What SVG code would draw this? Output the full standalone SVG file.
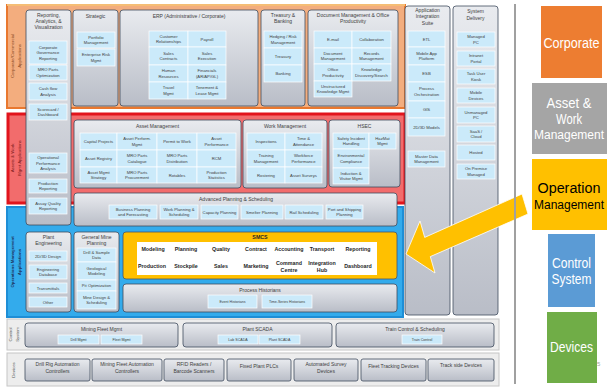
<svg xmlns="http://www.w3.org/2000/svg" width="607" height="387" viewBox="0 0 607 387">
<defs>
<linearGradient id="g" x1="0" y1="0" x2="0" y2="1">
<stop offset="0" stop-color="#E9EBEF"/>
<stop offset="1" stop-color="#B9BDC7"/>
</linearGradient>
<style>
text{font-family:"Liberation Sans",Arial,sans-serif}
.col{fill:url(#g);stroke:#3F4B5E;stroke-width:0.8}
.it{fill:#CBEAFA;stroke:#fff;stroke-width:0.7}
.s{font-size:4.2px;fill:#404040;text-anchor:middle}
.h{font-size:5px;fill:#404040;text-anchor:middle}
.m{font-size:3.6px;fill:#404040;text-anchor:middle}
.b{font-size:5.3px;font-weight:bold;fill:#262626;text-anchor:middle}
.lg{font-size:14px;fill:#fff;text-anchor:middle}
.side{font-size:4.4px;text-anchor:middle}
</style>
</defs>
<rect width="607" height="387" fill="#fff"/>

<!-- bands -->
<g id="bands">
<rect x="7" y="5" width="398" height="103" fill="#F3AD7E" stroke="#E9782F" stroke-width="2"/>
<line x1="7" y1="5" x2="405" y2="5" stroke="#F9D58E" stroke-width="1.5"/>
<rect x="8" y="114" width="397" height="89" fill="#F26C6C" stroke="#E2141C" stroke-width="3"/>
<rect x="7" y="207" width="396" height="110" fill="#33ABEC" stroke="#1E8ED6" stroke-width="2"/>
<rect x="7" y="319" width="492" height="31" fill="#EDEDED" stroke="#C6C6C6" stroke-width="1"/>
<rect x="7" y="353" width="492" height="33" fill="#EDEDED" stroke="#C6C6C6" stroke-width="1"/>
<text class="side" fill="#8A4A1E" transform="rotate(-90 13.5 56)" x="13.5" y="56">Corporate/Commercial</text>
<text class="side" fill="#8A4A1E" transform="rotate(-90 20.5 56)" x="20.5" y="56">Applications</text>
<text class="side" fill="#7A1A1A" transform="rotate(-90 13.5 158)" x="13.5" y="158">Assets &amp; Work</text>
<text class="side" fill="#7A1A1A" transform="rotate(-90 20.5 158)" x="20.5" y="158">Mgmt Applications</text>
<text class="side" fill="#1F3864" font-weight="bold" transform="rotate(-90 13.5 262)" x="13.5" y="262">Operations Management</text>
<text class="side" fill="#1F3864" font-weight="bold" transform="rotate(-90 20.5 262)" x="20.5" y="262">Applications</text>
<text class="side" fill="#595959" font-size="4px" transform="rotate(-90 12 334.5)" x="12" y="334.5">Control</text>
<text class="side" fill="#595959" font-size="4px" transform="rotate(-90 18.5 334.5)" x="18.5" y="334.5">System</text>
<text class="side" fill="#595959" font-size="4px" transform="rotate(-90 14.5 370)" x="14.5" y="370">Devices</text>
</g>

<g id="reporting">
<rect class="col" x="26" y="10" width="45" height="215" rx="3"/>
<text class="h" x="48.5" y="17">Reporting,</text>
<text class="h" x="48.5" y="23">Analytics, &amp;</text>
<text class="h" x="48.5" y="29">Visualization</text>
<rect class="it" x="29" y="41" width="38" height="23"/>
<text class="s" x="48" y="48.5">Corporate</text><text class="s" x="48" y="54">Governance</text><text class="s" x="48" y="59.5">Reporting</text>
<rect class="it" x="29" y="65" width="38" height="15"/>
<text class="s" x="48" y="71.2">MRO Parts</text><text class="s" x="48" y="76.7">Optimization</text>
<rect class="it" x="29" y="83" width="38" height="17"/>
<text class="s" x="48" y="90.2">Cash flow</text><text class="s" x="48" y="95.7">Analysis</text>
<rect class="it" x="29" y="104" width="38" height="16"/>
<text class="s" x="48" y="110.7">Scorecard /</text><text class="s" x="48" y="116.2">Dashboard</text>
<rect class="it" x="29" y="153" width="38" height="20"/>
<text class="s" x="48" y="159">Operational</text><text class="s" x="48" y="164.5">Performance</text><text class="s" x="48" y="170">Analysis</text>
<rect class="it" x="29" y="179" width="38" height="14"/>
<text class="s" x="48" y="184.7">Production</text><text class="s" x="48" y="190.2">Reporting</text>
<rect class="it" x="29" y="198" width="38" height="16"/>
<text class="s" x="48" y="204.7">Assay Quality</text><text class="s" x="48" y="210.2">Reporting</text>
</g>

<g id="strategic">
<rect class="col" x="73" y="10" width="45" height="96" rx="3"/>
<text class="h" x="95.5" y="17.5">Strategic</text>
<rect class="it" x="77" y="32" width="38" height="16"/>
<text class="s" x="96" y="38.7">Portfolio</text><text class="s" x="96" y="44.2">Management</text>
<rect class="it" x="77" y="49" width="38" height="17"/>
<text class="s" x="96" y="56.2">Enterprise Risk</text><text class="s" x="96" y="61.7">Mgmt</text>
</g>

<g id="erp">
<rect class="col" x="120" y="10" width="138" height="96" rx="3"/>
<text class="h" x="189" y="17.5">ERP (Administrative / Corporate)</text>
<rect class="it" x="149" y="31" width="39" height="16"/><rect class="it" x="188" y="31" width="38" height="16"/>
<rect class="it" x="149" y="47" width="39" height="18"/><rect class="it" x="188" y="47" width="38" height="18"/>
<rect class="it" x="149" y="65" width="39" height="17"/><rect class="it" x="188" y="65" width="38" height="17"/>
<rect class="it" x="149" y="82" width="39" height="17"/><rect class="it" x="188" y="82" width="38" height="17"/>
<text class="s" x="168.5" y="37.7">Customer</text><text class="s" x="168.5" y="43.2">Relationships</text>
<text class="s" x="207" y="40.5">Payroll</text>
<text class="s" x="168.5" y="54.7">Sales</text><text class="s" x="168.5" y="60.2">Contracts</text>
<text class="s" x="207" y="54.7">Sales</text><text class="s" x="207" y="60.2">Execution</text>
<text class="s" x="168.5" y="72.2">Human</text><text class="s" x="168.5" y="77.7">Resources</text>
<text class="s" x="207" y="72.2">Financials</text><text class="s" x="207" y="77.7">(AR/AP/GL)</text>
<text class="s" x="168.5" y="89.2">Travel</text><text class="s" x="168.5" y="94.7">Mgmt</text>
<text class="s" x="207" y="89.2">Tenement &amp;</text><text class="s" x="207" y="94.7">Lease Mgmt</text>
</g>

<g id="treasury">
<rect class="col" x="261" y="10" width="44" height="96" rx="3"/>
<text class="h" x="283" y="16.5">Treasury &amp;</text>
<text class="h" x="283" y="23">Banking</text>
<rect class="it" x="264" y="31" width="38" height="17"/>
<rect class="it" x="264" y="48" width="38" height="17"/>
<rect class="it" x="264" y="65" width="38" height="17"/>
<text class="s" x="283" y="38.2">Hedging / Risk</text><text class="s" x="283" y="43.7">Management</text>
<text class="s" x="283" y="58">Treasury</text>
<text class="s" x="283" y="75">Banking</text>
</g>

<g id="docmgmt">
<rect class="col" x="308" y="10" width="90" height="96" rx="3"/>
<text class="h" x="353" y="16.5">Document Management &amp; Office</text>
<text class="h" x="353" y="23">Productivity</text>
<rect class="it" x="314" y="31" width="38" height="17"/><rect class="it" x="352" y="31" width="39" height="17"/>
<rect class="it" x="314" y="48" width="38" height="16"/><rect class="it" x="352" y="48" width="39" height="16"/>
<rect class="it" x="314" y="64" width="38" height="17"/><rect class="it" x="352" y="64" width="39" height="17"/>
<rect class="it" x="314" y="81" width="38" height="16"/>
<text class="s" x="333" y="41">E-mail</text>
<text class="s" x="371.5" y="41">Collaboration</text>
<text class="s" x="333" y="54.7">Document</text><text class="s" x="333" y="60.2">Management</text>
<text class="s" x="371.5" y="54.7">Records</text><text class="s" x="371.5" y="60.2">Management</text>
<text class="s" x="333" y="71.2">Office</text><text class="s" x="333" y="76.7">Productivity</text>
<text class="s" x="371.5" y="71.2">Knowledge</text><text class="s" x="371.5" y="76.7">Discovery/Search</text>
<text class="s" x="333" y="87.7">Unstructured</text><text class="s" x="333" y="93.2">Knowledge Mgmt</text>
</g>

<g id="appint">
<rect class="col" x="405" y="6" width="45" height="309" rx="3"/>
<text class="h" x="427.5" y="11.5">Application</text>
<text class="h" x="427.5" y="18">Integration</text>
<text class="h" x="427.5" y="24.5">Suite</text>
<rect class="it" x="408" y="31" width="37" height="16"/>
<rect class="it" x="408" y="47" width="37" height="18"/>
<rect class="it" x="408" y="65" width="37" height="17"/>
<rect class="it" x="408" y="82" width="37" height="19"/>
<rect class="it" x="408" y="101" width="37" height="17"/>
<rect class="it" x="408" y="118" width="37" height="18"/>
<rect class="it" x="408" y="151" width="37" height="16"/>
<text class="s" x="426.5" y="40.5">ETL</text>
<text class="s" x="426.5" y="54.7">Mobile App</text><text class="s" x="426.5" y="60.2">Platform</text>
<text class="s" x="426.5" y="75">ESB</text>
<text class="s" x="426.5" y="90.2">Process</text><text class="s" x="426.5" y="95.7">Orchestration</text>
<text class="s" x="426.5" y="111">GIS</text>
<text class="s" x="426.5" y="128.5">2D/3D Models</text>
<text class="s" x="426.5" y="157.7">Master Data</text><text class="s" x="426.5" y="163.2">Management</text>
</g>

<g id="sysdel">
<rect class="col" x="453" y="6" width="45" height="309" rx="3"/>
<text class="h" x="475.5" y="13">System</text>
<text class="h" x="475.5" y="19.5">Delivery</text>
<rect class="it" x="457" y="32" width="38" height="15"/>
<rect class="it" x="457" y="51" width="38" height="15"/>
<rect class="it" x="457" y="69" width="38" height="15"/>
<rect class="it" x="457" y="88" width="38" height="15"/>
<rect class="it" x="457" y="107" width="38" height="16"/>
<rect class="it" x="457" y="126" width="38" height="16"/>
<rect class="it" x="457" y="145" width="38" height="15"/>
<rect class="it" x="457" y="164" width="38" height="15"/>
<text class="s" x="476" y="38.2">Managed</text><text class="s" x="476" y="43.7">PC</text>
<text class="s" x="476" y="57.2">Intranet</text><text class="s" x="476" y="62.7">Portal</text>
<text class="s" x="476" y="75.2">Task User</text><text class="s" x="476" y="80.7">Kiosk</text>
<text class="s" x="476" y="94.2">Mobile</text><text class="s" x="476" y="99.7">Devices</text>
<text class="s" x="476" y="113.7">Unmanaged</text><text class="s" x="476" y="119.2">PC</text>
<text class="s" x="476" y="132.7">SaaS /</text><text class="s" x="476" y="138.2">Cloud</text>
<text class="s" x="476" y="154">Hosted</text>
<text class="s" x="476" y="170.2">On Premise</text><text class="s" x="476" y="175.7">Managed</text>
</g>

<g id="assetmgmt">
<rect class="col" x="74" y="120" width="167" height="68" rx="3"/>
<text class="h" x="157.5" y="127.5">Asset Management</text>
<rect class="it" x="80" y="133" width="37" height="17"/><rect class="it" x="117" y="133" width="40" height="17"/><rect class="it" x="157" y="133" width="40" height="17"/><rect class="it" x="197" y="133" width="39" height="17"/>
<rect class="it" x="80" y="150" width="37" height="17"/><rect class="it" x="117" y="150" width="40" height="17"/><rect class="it" x="157" y="150" width="40" height="17"/><rect class="it" x="197" y="150" width="39" height="17"/>
<rect class="it" x="80" y="167" width="37" height="16"/><rect class="it" x="117" y="167" width="40" height="16"/><rect class="it" x="157" y="167" width="40" height="16"/><rect class="it" x="197" y="167" width="39" height="16"/>
<text class="s" x="98.5" y="143">Capital Projects</text>
<text class="s" x="137" y="140.2">Asset Perform.</text><text class="s" x="137" y="145.7">Mgmt</text>
<text class="s" x="177" y="143">Permit to Work</text>
<text class="s" x="216.5" y="140.2">Asset</text><text class="s" x="216.5" y="145.7">Performance</text>
<text class="s" x="98.5" y="160">Asset Registry</text>
<text class="s" x="137" y="157.2">MRO Parts</text><text class="s" x="137" y="162.7">Catalogue</text>
<text class="s" x="177" y="157.2">MRO Parts</text><text class="s" x="177" y="162.7">Distribution</text>
<text class="s" x="216.5" y="160">RCM</text>
<text class="s" x="98.5" y="173.7">Asset Mgmt</text><text class="s" x="98.5" y="179.2">Strategy</text>
<text class="s" x="137" y="173.7">MRO Parts</text><text class="s" x="137" y="179.2">Procurement</text>
<text class="s" x="177" y="176.5">Rotables</text>
<text class="s" x="216.5" y="173.7">Production</text><text class="s" x="216.5" y="179.2">Statistics</text>
</g>

<g id="workmgmt">
<rect class="col" x="243" y="120" width="84" height="68" rx="3"/>
<text class="h" x="285" y="127.5">Work Management</text>
<rect class="it" x="247" y="133" width="38" height="17"/><rect class="it" x="285" y="133" width="37" height="17"/>
<rect class="it" x="247" y="150" width="38" height="17"/><rect class="it" x="285" y="150" width="37" height="17"/>
<rect class="it" x="247" y="167" width="38" height="16"/><rect class="it" x="285" y="167" width="37" height="16"/>
<text class="s" x="266" y="143">Inspections</text>
<text class="s" x="303.5" y="140.2">Time &amp;</text><text class="s" x="303.5" y="145.7">Attendance</text>
<text class="s" x="266" y="157.2">Training</text><text class="s" x="266" y="162.7">Management</text>
<text class="s" x="303.5" y="157.2">Workforce</text><text class="s" x="303.5" y="162.7">Performance</text>
<text class="s" x="266" y="176.5">Rostering</text>
<text class="s" x="303.5" y="176.5">Asset Surveys</text>
</g>

<g id="hsec">
<rect class="col" x="329" y="120" width="71" height="67" rx="3"/>
<text class="h" x="364.5" y="127.5">HSEC</text>
<rect class="it" x="333" y="133" width="36" height="16"/><rect class="it" x="369" y="133" width="27" height="16"/>
<rect class="it" x="333" y="149" width="36" height="19"/>
<rect class="it" x="333" y="168" width="36" height="16"/>
<text class="s" x="351" y="139.7">Safety Incident</text><text class="s" x="351" y="145.2">Handling</text>
<text class="s" x="382.5" y="139.7">HazMat</text><text class="s" x="382.5" y="145.2">Mgmt</text>
<text class="s" x="351" y="157.2">Environmental</text><text class="s" x="351" y="162.7">Compliance</text>
<text class="s" x="351" y="174.7">Induction &amp;</text><text class="s" x="351" y="180.2">Visitor Mgmt</text>
</g>

<g id="advplan">
<rect class="col" x="74" y="193" width="323" height="33" rx="3"/>
<text class="h" x="236" y="200.5">Advanced Planning &amp; Scheduling</text>
<rect class="it" x="109" y="205" width="48" height="14"/>
<rect class="it" x="160" y="205" width="38" height="14"/>
<rect class="it" x="201" y="205" width="37" height="14"/>
<rect class="it" x="241" y="205" width="42" height="14"/>
<rect class="it" x="285" y="205" width="38" height="14"/>
<rect class="it" x="326" y="205" width="37" height="14"/>
<text class="s" x="133" y="210.7">Business Planning</text><text class="s" x="133" y="216.2">and Forecasting</text>
<text class="s" x="179" y="210.7">Work Planning &amp;</text><text class="s" x="179" y="216.2">Scheduling</text>
<text class="s" x="219.5" y="213.5">Capacity Planning</text>
<text class="s" x="262" y="213.5">Smelter Planning</text>
<text class="s" x="304" y="213.5">Rail Scheduling</text>
<text class="s" x="344.5" y="210.7">Port and Shipping</text><text class="s" x="344.5" y="216.2">Planning</text>
</g>

<g id="planteng">
<rect class="col" x="26" y="232" width="45" height="80" rx="3"/>
<text class="h" x="48.5" y="238.5">Plant</text>
<text class="h" x="48.5" y="245">Engineering</text>
<rect class="it" x="29" y="251" width="38" height="10"/>
<rect class="it" x="29" y="265" width="38" height="14"/>
<rect class="it" x="29" y="283" width="38" height="10"/>
<rect class="it" x="29" y="297" width="38" height="10"/>
<text class="s" x="48" y="257.5">2D/3D Design</text>
<text class="s" x="48" y="270.7">Engineering</text><text class="s" x="48" y="276.2">Database</text>
<text class="s" x="48" y="289.5">Transmittals</text>
<text class="s" x="48" y="303.5">Other</text>
</g>

<g id="mineplan">
<rect class="col" x="74" y="232" width="45" height="80" rx="3"/>
<text class="h" x="96.5" y="238.5">General Mine</text>
<text class="h" x="96.5" y="245">Planning</text>
<rect class="it" x="77" y="248" width="39" height="14"/>
<rect class="it" x="77" y="262" width="39" height="18"/>
<rect class="it" x="77" y="280" width="39" height="11"/>
<rect class="it" x="77" y="291" width="39" height="18"/>
<text class="s" x="96.5" y="253.7">Drill &amp; Sample</text><text class="s" x="96.5" y="259.2">Data</text>
<text class="s" x="96.5" y="269.7">Geological</text><text class="s" x="96.5" y="275.2">Modeling</text>
<text class="s" x="96.5" y="287">Pit Optimization</text>
<text class="s" x="96.5" y="298.7">Mine Design &amp;</text><text class="s" x="96.5" y="304.2">Scheduling</text>
</g>

<g id="smcs">
<rect x="123" y="232" width="274" height="47" rx="3" fill="#FFC000" stroke="#44546A" stroke-width="0.8"/>
<text class="b" x="260" y="238.5">SMCS</text>
<rect x="137" y="242" width="240" height="33" fill="#fff"/>
<text class="b" x="153" y="251">Modeling</text>
<text class="b" x="186" y="251">Planning</text>
<text class="b" x="221" y="251">Quality</text>
<text class="b" x="256" y="251">Contract</text>
<text class="b" x="289" y="251">Accounting</text>
<text class="b" x="322" y="251">Transport</text>
<text class="b" x="358" y="251">Reporting</text>
<text class="b" x="152" y="268">Production</text>
<text class="b" x="186" y="268">Stockpile</text>
<text class="b" x="221" y="268">Sales</text>
<text class="b" x="256" y="268">Marketing</text>
<text class="b" x="289" y="265">Command</text><text class="b" x="289" y="271.7">Centre</text>
<text class="b" x="322" y="264.5">Integration</text><text class="b" x="322" y="271.7">Hub</text>
<text class="b" x="358" y="268">Dashboard</text>
</g>

<g id="historians">
<rect class="col" x="123" y="284" width="274" height="28" rx="3"/>
<text class="h" x="260" y="291.5" font-size="4.6px">Process Historians</text>
<rect class="it" x="208" y="295" width="49" height="13"/>
<rect class="it" x="262" y="295" width="50" height="13"/>
<text class="m" x="232.5" y="303">Event Historians</text>
<text class="m" x="287" y="303">Time-Series Historians</text>
</g>

<g id="fleetmgmt">
<rect class="col" x="25" y="323" width="153" height="24" rx="3"/>
<text class="h" x="101.5" y="330.5" font-size="4.6px">Mining Fleet Mgmt</text>
<rect class="it" x="58" y="335" width="41" height="9"/><rect class="it" x="101" y="335" width="41" height="9"/>
<text class="m" x="78.5" y="341">Drill Mgmt</text><text class="m" x="121.5" y="341">Fleet Mgmt</text>
</g>
<g id="plantscada">
<rect class="col" x="183" y="323" width="149" height="24" rx="3"/>
<text class="h" x="257.5" y="330.5" font-size="4.6px">Plant SCADA</text>
<rect class="it" x="218" y="335" width="40" height="9"/><rect class="it" x="259" y="335" width="41" height="9"/>
<text class="m" x="238" y="341">Lab SCADA</text><text class="m" x="279.5" y="341">Plant SCADA</text>
</g>
<g id="traincontrol">
<rect class="col" x="336" y="323" width="158" height="24" rx="3"/>
<text class="h" x="415" y="330.5" font-size="4.6px">Train Control &amp; Scheduling</text>
<rect class="it" x="402" y="335" width="40" height="9"/>
<text class="m" x="422" y="341">Train Control</text>
</g>

<g id="devices">
<rect class="col" x="25" y="359" width="65" height="22" rx="2"/>
<text class="h" x="57.5" y="366" font-size="4.6px">Drill Rig Automation</text><text class="h" x="57.5" y="373" font-size="4.6px">Controllers</text>
<rect class="col" x="92" y="359" width="70" height="22" rx="2"/>
<text class="h" x="127" y="366" font-size="4.6px">Mining Fleet Automation</text><text class="h" x="127" y="373" font-size="4.6px">Controllers</text>
<rect class="col" x="164" y="359" width="60" height="22" rx="2"/>
<text class="h" x="194" y="366" font-size="4.6px">RFID Readers /</text><text class="h" x="194" y="373" font-size="4.6px">Barcode Scanners</text>
<rect class="col" x="227" y="359" width="64" height="22" rx="2"/>
<text class="h" x="259" y="368" font-size="4.6px">Fixed Plant PLCs</text>
<rect class="col" x="294" y="359" width="64" height="22" rx="2"/>
<text class="h" x="326" y="366" font-size="4.6px">Automated Survey</text><text class="h" x="326" y="373" font-size="4.6px">Devices</text>
<rect class="col" x="361" y="359" width="65" height="22" rx="2"/>
<text class="h" x="393.5" y="368" font-size="4.6px">Fleet Tracking Devices</text>
<rect class="col" x="428" y="359" width="66" height="22" rx="2"/>
<text class="h" x="461" y="367" font-size="4.6px">Track side Devices</text>
</g>

<g id="connectors">
<polygon points="406,254 420,221 424.7,237.4 522,194 528,214 430.3,256.6 435,273" fill="#FFC000" stroke="#fff" stroke-width="0.8"/>
</g>

<line x1="515" y1="4" x2="515" y2="384" stroke="#A0A0A0" stroke-width="2"/>

<g id="legend-corporate">
<rect x="541" y="6" width="61" height="72" fill="#ED7D31"/>
<text class="lg" x="571.5" y="48" textLength="56" lengthAdjust="spacingAndGlyphs">Corporate</text>
</g>
<g id="legend-asset">
<rect x="532" y="83" width="75" height="71" fill="#A5A5A5"/>
<text class="lg" x="569" y="108" textLength="45" lengthAdjust="spacingAndGlyphs">Asset  &amp;</text>
<text class="lg" x="569" y="123.5" textLength="26" lengthAdjust="spacingAndGlyphs">Work</text>
<text class="lg" x="569" y="139" font-size="12px" style="font-size:12px">Management</text>
</g>
<g id="legend-operation">
<rect x="532" y="159" width="75" height="71" fill="#FFC000"/>
<text class="lg" x="569" y="193" style="fill:#000" textLength="63" lengthAdjust="spacingAndGlyphs">Operation</text>
<text class="lg" x="569" y="209" style="fill:#000;font-size:12px">Management</text>
</g>
<g id="legend-control">
<rect x="548" y="234" width="47" height="73" fill="#5B9BD5"/>
<text class="lg" x="571.5" y="268" textLength="39" lengthAdjust="spacingAndGlyphs">Control</text>
<text class="lg" x="571.5" y="284" textLength="40" lengthAdjust="spacingAndGlyphs">System</text>
</g>
<g id="legend-devices">
<rect x="547" y="312" width="50" height="71" fill="#70AD47"/>
<text class="lg" x="571.5" y="352" textLength="43" lengthAdjust="spacingAndGlyphs">Devices</text>
</g>
<text x="597" y="366" font-size="6px" fill="#A6A6A6">5</text>
</svg>
